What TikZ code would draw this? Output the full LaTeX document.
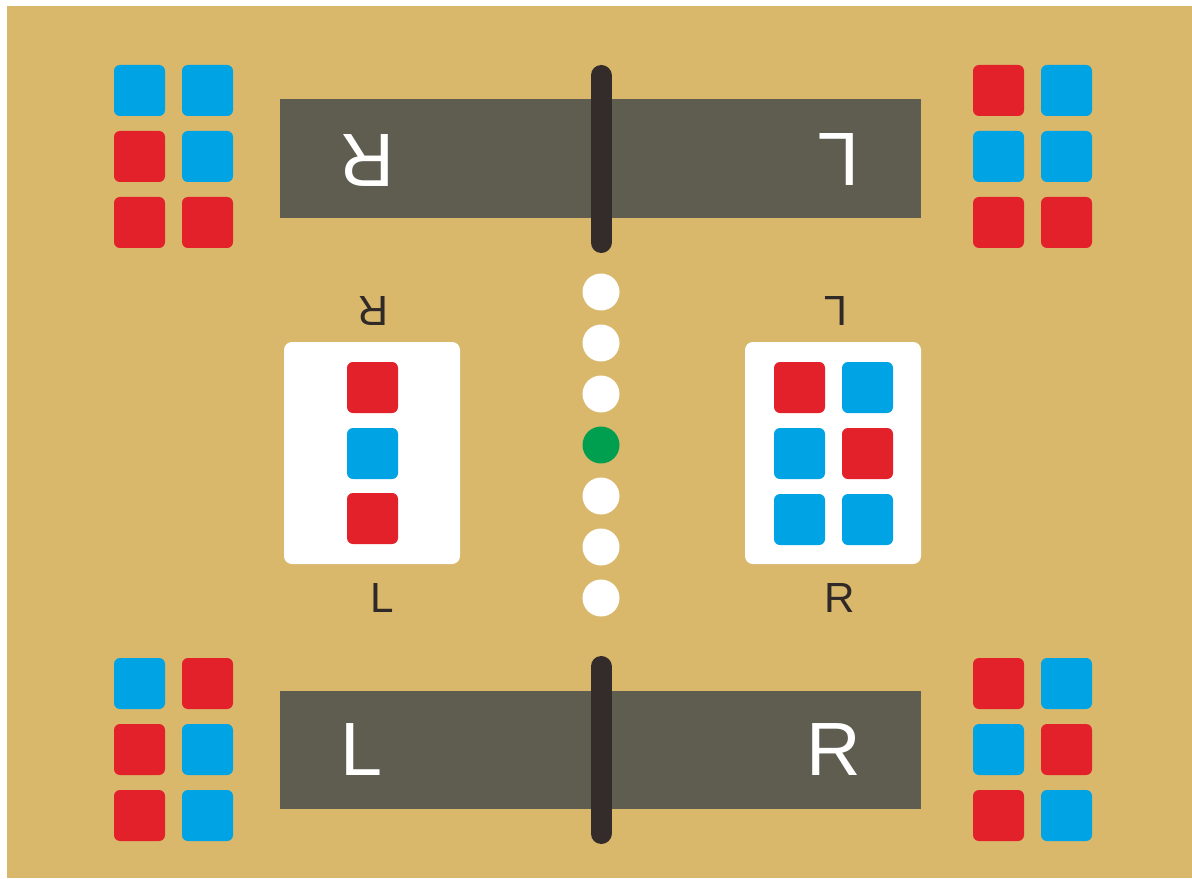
\documentclass[tikz,border=0pt]{standalone}
\usepackage{xcolor}
\usepackage{fontspec}
\usepackage{tikz}
\usetikzlibrary{positioning}
\newfontfamily\lettres{Liberation Sans}
\definecolor{fond}{HTML}{D9B86C}
\definecolor{barre}{HTML}{5F5D50}
\definecolor{poteau}{HTML}{332C2A}
\definecolor{rouge}{HTML}{E3212B}
\definecolor{bleu}{HTML}{00A3E4}
\definecolor{vert}{HTML}{009E4F}
\definecolor{encre}{HTML}{2F2927}
\tikzset{
  case/.style={rounded corners=3.4pt},
  grande/.style={font=\lettres\fontsize{43}{43}\selectfont, color=white, inner sep=0pt},
  petite/.style={font=\lettres\fontsize{24}{24}\selectfont, color=encre, inner sep=0pt}
}
\begin{document}
\begin{tikzpicture}[x=0.02cm, y=-0.02cm]
    \useasboundingbox (0,0) rectangle (1192,878);
    \fill[fond] (7,6) rectangle (1192,878);
    % barres et poteaux
    \fill[barre] (280,99) rectangle (921,218);
    \fill[barre] (280,691) rectangle (921,809);
    \draw[poteau, line width=0.42cm, line cap=round] (601,75.5) -- (601,242.5);
    \draw[poteau, line width=0.42cm, line cap=round] (601,666.5) -- (601,833.5);
    \node[grande, rotate=180] (hautR) at (367,160) {R};
    \node[grande, rotate=180] (hautL) at (838,159) {L};
    \node[grande] (basL) at (362,750) {L};
    \node[grande] (basR) at (834,750) {R};
    % panneaux blancs
    \fill[white, rounded corners=4.5pt] (284,342) rectangle (460,564);
    \fill[white, rounded corners=4.5pt] (745,342) rectangle (921,564);
    \node[petite, rotate=180] (gaucheR) at (373,311) {R};
    \node[petite] (gaucheL) at (382,598) {L};
    \node[petite, rotate=180] (droiteL) at (836,311) {L};
    \node[petite] (droiteR) at (840,598) {R};
    % cases de couleur
    \foreach \ox/\oy/\ca/\cb/\cc/\cd/\ce/\cf in {
      114/65/bleu/bleu/rouge/bleu/rouge/rouge,
      973/65/rouge/bleu/bleu/bleu/rouge/rouge,
      114/658/bleu/rouge/rouge/bleu/rouge/bleu,
      973/658/rouge/bleu/bleu/rouge/rouge/bleu,
      774/362/rouge/bleu/bleu/rouge/bleu/bleu} {
      \fill[\ca, case] (\ox,\oy) rectangle ++(51,51);
      \fill[\cb, case] (\ox+68,\oy) rectangle ++(51,51);
      \fill[\cc, case] (\ox,\oy+66) rectangle ++(51,51);
      \fill[\cd, case] (\ox+68,\oy+66) rectangle ++(51,51);
      \fill[\ce, case] (\ox,\oy+132) rectangle ++(51,51);
      \fill[\cf, case] (\ox+68,\oy+132) rectangle ++(51,51);
    }
    \foreach \y/\c in {362/rouge, 428/bleu, 493/rouge}
      \fill[\c, case] (347,\y) rectangle ++(51,51);
    % pions
    \foreach \i in {0,...,6} {
      \ifnum\i=3 \def\couleur{vert}\else \def\couleur{white}\fi
      \fill[\couleur] (601,292+51*\i) circle[radius=0.37cm];
    }
  \end{tikzpicture}
\end{document}
